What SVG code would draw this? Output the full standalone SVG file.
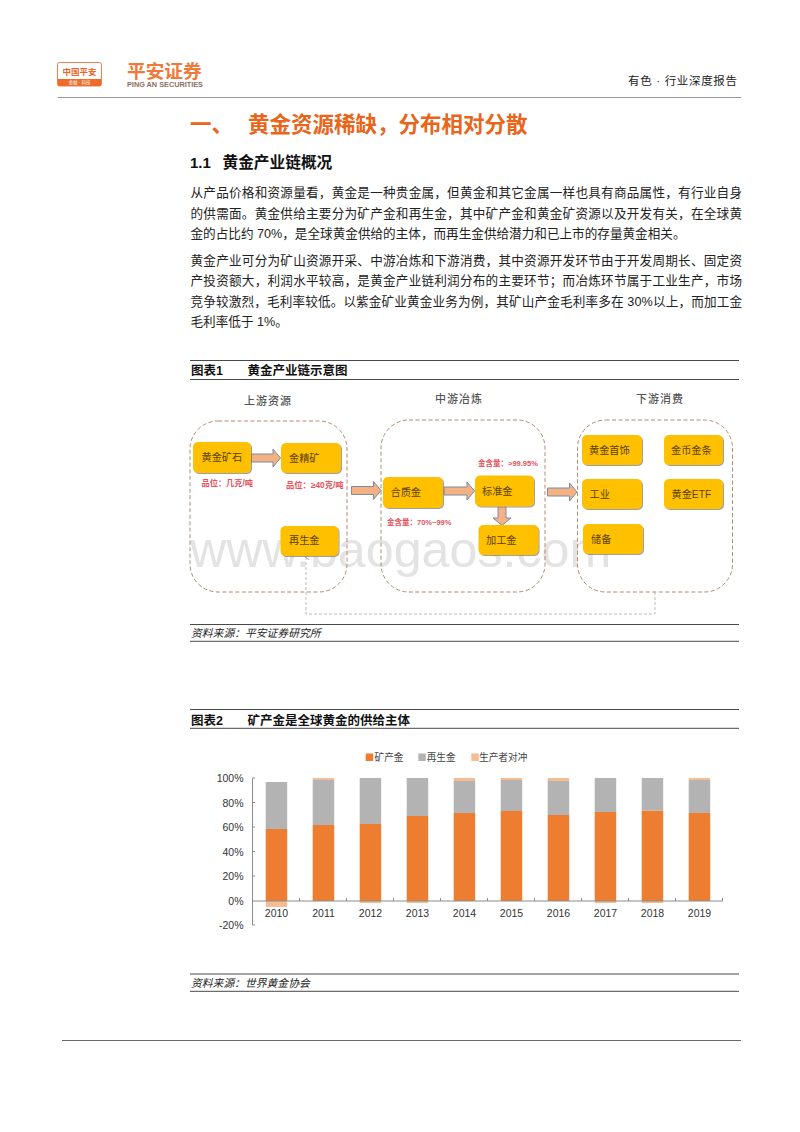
<svg xmlns="http://www.w3.org/2000/svg" width="800" height="1132" viewBox="0 0 800 1132">
<style>
text{font-family:"Liberation Sans","Noto Sans CJK SC",sans-serif;fill:#222}
.b{font-size:12.6px}
.cap{font-size:12.5px;font-weight:700;fill:#111}
.src{font-size:10.8px;font-style:italic;fill:#222}
.rule{stroke:#333;stroke-width:.9}
.grp{fill:none;stroke:#b58a70;stroke-width:1;stroke-dasharray:4 2.5}
.n{fill:#ffc000;filter:url(#sh)}
.nt{font-family:"Liberation Sans","Noto Sans CJK SC",sans-serif;font-size:10.2px;fill:#5c4200}
.h{font-family:"Noto Sans CJK SC",sans-serif;font-size:11px;fill:#555;letter-spacing:1px;font-weight:500}
.red{fill:#e8505b;font-weight:700}
.ar{fill:#f4b183;stroke:#7d8ca3;stroke-width:1}
.or{fill:#ed7d31}.gr{fill:#b3b3b3}.hd{fill:#f4bd94}
.ax{font-size:10.5px;fill:#333}
.lg{font-size:9.7px;fill:#444}
.tk{stroke:#8c8c8c;stroke-width:1;fill:none}
</style>
<defs>
<filter id="sh" x="-10%" y="-10%" width="125%" height="130%"><feDropShadow dx="1" dy="1" stdDeviation=".6" flood-color="#777" flood-opacity=".7"/></filter>
<marker id="tip" markerWidth="7" markerHeight="7" refX="3.5" refY="1" orient="auto-start-reverse"><path d="M0 5 L3.5 0 L7 5" fill="none" stroke="#999" stroke-width="1"/></marker>
</defs>
<rect width="800" height="1132" fill="#fff"/>
<g id="header">
<rect x="57.500" y="62.500" width="44" height="23.500" rx="2" fill="#fff" stroke="#ee8050"/>
<rect x="58" y="79" width="43" height="7" fill="#ee6c2a"/>
<text x="79.500" y="75" text-anchor="middle" style="font-size:8.500px;font-weight:700;fill:#e8642a">中国平安</text>
<text x="79.500" y="84.300" text-anchor="middle" style="font-size:4.500px;fill:#fff">金融 · 科技</text>
<text x="127" y="77.500" style="font-size:18.700px;font-weight:700;fill:#ee7a3a">平安证券</text>
<text x="127" y="86.500" style="font-size:7.300px;font-weight:700;fill:#8a6f62">PING AN SECURITIES</text>
<text x="628" y="85" textLength="109" style="font-size:11.500px;fill:#222">有色 · 行业深度报告</text>
<line x1="58" y1="97.500" x2="741" y2="97.500" stroke="#999" stroke-width="1"/>
</g>
<text x="190" y="131.500" style="font-size:21.500px;font-weight:700;fill:#e8651a">一、</text>
<text x="248" y="131.500" style="font-size:21.500px;font-weight:700;fill:#e8651a">黄金资源稀缺，分布相对分散</text>
<text x="190" y="168" style="font-size:15px;font-weight:700;fill:#111">1.1</text>
<text x="222.500" y="168" style="font-size:15.700px;font-weight:700;fill:#111">黄金产业链概况</text>
<g id="body">
<text class="b" x="190.500" y="197" textLength="551.500">从产品价格和资源量看，黄金是一种贵金属，但黄金和其它金属一样也具有商品属性，有行业自身</text>
<text class="b" x="190.500" y="217.500" textLength="551.500">的供需面。黄金供给主要分为矿产金和再生金，其中矿产金和黄金矿资源以及开发有关，在全球黄</text>
<text class="b" x="190.500" y="237.500" textLength="495">金的占比约 70%，是全球黄金供给的主体，而再生金供给潜力和已上市的存量黄金相关。</text>
<text class="b" x="190.500" y="265" textLength="551.500">黄金产业可分为矿山资源开采、中游冶炼和下游消费，其中资源开发环节由于开发周期长、固定资</text>
<text class="b" x="190.500" y="285" textLength="551.500">产投资额大，利润水平较高，是黄金产业链利润分布的主要环节；而冶炼环节属于工业生产，市场</text>
<text class="b" x="190.500" y="306" textLength="551.500">竞争较激烈，毛利率较低。以紫金矿业黄金业务为例，其矿山产金毛利率多在 30%以上，而加工金</text>
<text class="b" x="190.500" y="325.500">毛利率低于 1%。</text>
</g>
<line class="rule" x1="190" y1="360.500" x2="739" y2="360.500"/>
<line class="rule" x1="190" y1="379.500" x2="739" y2="379.500"/>
<text class="cap" x="191" y="375">图表1</text>
<text class="cap" x="247.500" y="375">黄金产业链示意图</text>
<text x="244" y="405" class="h">上游资源</text>
<text x="435" y="403" class="h">中游冶炼</text>
<text x="636" y="403" class="h">下游消费</text>
<text x="190" y="567" style="font-size:50.200px;fill:#e3e3e3">www.baogaos.com</text>
<g id="groups">
<rect class="grp" x="190" y="421" width="157" height="171" rx="28"/>
<rect class="grp" x="381" y="420" width="164" height="172" rx="28"/>
<rect class="grp" x="577.500" y="420" width="155" height="172" rx="28"/>
</g>
<g id="connectors">
<path class="ar" d="M251 454h22v-5l7.500 9-7.500 9v-5h-22z"/>
<path class="ar" d="M351.500 486.500h22v-5l7.500 9-7.500 9v-5h-22z"/>
<path class="ar" d="M444 487h23v-5l7.500 9-7.500 9v-5h-23z"/>
<path class="ar" d="M547.500 488h22v-5l7.500 9-7.500 9v-5h-22z"/>
<path class="ar" d="M498 505.500h8v12.500h5l-9 7.500-9-7.500h5z"/>
<path d="M655 592V614H306V557" fill="none" stroke="#aaa" stroke-width=".8" stroke-dasharray="3 2" marker-end="url(#tip)"/>
</g>
<g id="n1"><rect class="n" x="193" y="442" width="58" height="31" rx="5"/><text class="nt" x="201.500" y="461">黄金矿石</text></g>
<g id="n2"><rect class="n" x="281" y="443" width="60" height="30" rx="5"/><text class="nt" x="289" y="462">金精矿</text></g>
<g id="n3"><rect class="n" x="280.500" y="526" width="58" height="30" rx="5"/><text class="nt" x="289" y="544">再生金</text></g>
<g id="n4"><rect class="n" x="383" y="477" width="60" height="31" rx="5"/><text class="nt" x="390.500" y="496">合质金</text></g>
<g id="n5"><rect class="n" x="475" y="475.500" width="59" height="31" rx="5"/><text class="nt" x="482" y="495">标准金</text></g>
<g id="n6"><rect class="n" x="478.500" y="525" width="60" height="30" rx="5"/><text class="nt" x="486" y="544">加工金</text></g>
<g id="n7"><rect class="n" x="582" y="435" width="60" height="30" rx="5"/><text class="nt" x="589" y="454">黄金首饰</text></g>
<g id="n8"><rect class="n" x="664" y="435" width="59" height="30" rx="5"/><text class="nt" x="671" y="454">金币金条</text></g>
<g id="n9"><rect class="n" x="582" y="479" width="60" height="30" rx="5"/><text class="nt" x="589.500" y="498">工业</text></g>
<g id="n10"><rect class="n" x="664" y="479" width="59" height="30" rx="5"/><text class="nt" x="671.500" y="498">黄金ETF</text></g>
<g id="n11"><rect class="n" x="583" y="524" width="60" height="30" rx="5"/><text class="nt" x="591" y="543">储备</text></g>
<g id="labels">
<text class="red" x="201.500" y="486" style="font-size:8.200px">品位：几克/吨</text>
<text class="red" x="286" y="488" style="font-size:8.300px">品位：≥40克/吨</text>
<text class="red" x="387" y="524.500" style="font-size:7.500px">金含量：70%~99%</text>
<text class="red" x="478" y="465.500" style="font-size:7.500px">金含量：&gt;99.95%</text>
</g>
<line class="rule" x1="190" y1="624.500" x2="739" y2="624.500"/>
<line class="rule" x1="190" y1="641.300" x2="739" y2="641.300"/>
<text class="src" x="191" y="637">资料来源：平安证券研究所</text>
<line class="rule" x1="190" y1="709.500" x2="739" y2="709.500"/>
<line class="rule" x1="190" y1="728.300" x2="739" y2="728.300"/>
<text class="cap" x="191" y="724.500">图表2</text>
<text class="cap" x="247.500" y="724.500">矿产金是全球黄金的供给主体</text>
<g id="chart">
<rect class="or" x="365.700" y="753.500" width="7.500" height="7.500"/><text class="lg" x="374.500" y="761">矿产金</text>
<rect class="gr" x="418.300" y="753.500" width="7.500" height="7.500"/><text class="lg" x="426.700" y="761">再生金</text>
<rect class="hd" x="471.300" y="753.500" width="7.500" height="7.500"/><text class="lg" x="479" y="761">生产者对冲</text>
<g id="bars">
<rect class="hd" x="265.700" y="901" width="21.500" height="6"/><rect class="or" x="265.700" y="829" width="21.500" height="72"/><rect class="gr" x="265.700" y="782" width="21.500" height="47"/>
<rect class="hd" x="312.700" y="778" width="21.500" height="2"/><rect class="or" x="312.700" y="825" width="21.500" height="76"/><rect class="gr" x="312.700" y="780" width="21.500" height="45"/>
<rect class="hd" x="359.700" y="901" width="21.500" height="2"/><rect class="or" x="359.700" y="824" width="21.500" height="77"/><rect class="gr" x="359.700" y="778" width="21.500" height="46"/>
<rect class="hd" x="406.700" y="901" width="21.500" height="2"/><rect class="or" x="406.700" y="816" width="21.500" height="85"/><rect class="gr" x="406.700" y="778" width="21.500" height="38"/>
<rect class="hd" x="453.700" y="778" width="21.500" height="3"/><rect class="or" x="453.700" y="813" width="21.500" height="88"/><rect class="gr" x="453.700" y="781" width="21.500" height="32"/>
<rect class="hd" x="500.700" y="778" width="21.500" height="2"/><rect class="or" x="500.700" y="811" width="21.500" height="90"/><rect class="gr" x="500.700" y="780" width="21.500" height="31"/>
<rect class="hd" x="547.700" y="778" width="21.500" height="3"/><rect class="or" x="547.700" y="815" width="21.500" height="86"/><rect class="gr" x="547.700" y="781" width="21.500" height="34"/>
<rect class="hd" x="594.700" y="901" width="21.500" height="2"/><rect class="or" x="594.700" y="812" width="21.500" height="89"/><rect class="gr" x="594.700" y="778" width="21.500" height="34"/>
<rect class="hd" x="641.700" y="901" width="21.500" height="2"/><rect class="or" x="641.700" y="810.500" width="21.500" height="90.500"/><rect class="gr" x="641.700" y="778" width="21.500" height="32.500"/>
<rect class="hd" x="688.700" y="778" width="21.500" height="2"/><rect class="or" x="688.700" y="813" width="21.500" height="88"/><rect class="gr" x="688.700" y="780" width="21.500" height="33"/>
</g>
<path class="tk" d="M255 778H252.500V925H255M252.500 802.500H255M252.500 827H255M252.500 851.500H255M252.500 876H255M252.500 901H723M299.500 898V901M346.500 898V901M393.500 898V901M440.500 898V901M487.500 898V901M534.500 898V901M581.500 898V901M628.500 898V901M675.500 898V901M722.500 898V901"/>
<g text-anchor="end">
<text class="ax" x="243.500" y="782">100%</text><text class="ax" x="243.500" y="806.500">80%</text><text class="ax" x="243.500" y="831">60%</text><text class="ax" x="243.500" y="855.500">40%</text><text class="ax" x="243.500" y="880">20%</text><text class="ax" x="243.500" y="905">0%</text><text class="ax" x="243.500" y="929">-20%</text>
</g>
<g text-anchor="middle">
<text class="ax" x="276.500" y="917">2010</text><text class="ax" x="323.500" y="917">2011</text><text class="ax" x="370.500" y="917">2012</text><text class="ax" x="417.500" y="917">2013</text><text class="ax" x="464.500" y="917">2014</text><text class="ax" x="511.500" y="917">2015</text><text class="ax" x="558.500" y="917">2016</text><text class="ax" x="605.500" y="917">2017</text><text class="ax" x="652.500" y="917">2018</text><text class="ax" x="699.500" y="917">2019</text>
</g>
</g>
<line class="rule" x1="190" y1="974" x2="739" y2="974"/>
<line class="rule" x1="190" y1="991.300" x2="739" y2="991.300"/>
<text class="src" x="191" y="987">资料来源：世界黄金协会</text>
<line x1="62" y1="1040.500" x2="741" y2="1040.500" stroke="#444" stroke-width=".8"/>
</svg>
